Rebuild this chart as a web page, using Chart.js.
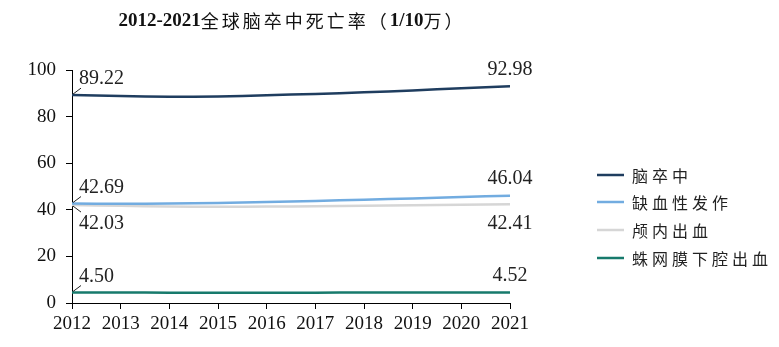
<!DOCTYPE html>
<html>
<head>
<meta charset="utf-8">
<script src="https://cdn.jsdelivr.net/npm/chart.js@4.4.0/dist/chart.umd.min.js"></script>
<style>
  html, body { margin: 0; padding: 0; background: #fff; }
  #wrap { width: 779px; height: 347px; position: relative; }
</style>
</head>
<body>
<div id="wrap"><canvas id="chart"></canvas></div>
<script>
const years = ['2012','2013','2014','2015','2016','2017','2018','2019','2020','2021'];
const stroke = [89.22, 88.8, 88.5, 88.6, 89.2, 89.7, 90.4, 91.2, 92.2, 92.98];
const ischemic = [42.69, 42.6, 42.7, 42.9, 43.3, 43.8, 44.3, 44.9, 45.5, 46.04];
const intracerebral = [42.03, 41.7, 41.4, 41.3, 41.4, 41.5, 41.7, 41.9, 42.2, 42.41];
const subarachnoid = [4.50, 4.48, 4.45, 4.44, 4.44, 4.45, 4.46, 4.48, 4.50, 4.52];
const seriesNames = ['脑卒中', '缺血性发作', '颅内出血', '蛛网膜下腔出血'];
const colors = ['#1f3d5f', '#72ace0', '#d6d6d6', '#177a6c'];

const serif = "'Liberation Serif', 'Times New Roman', serif";
const cjk = "'Noto Sans CJK SC', sans-serif";

// which end labels go above (-1) or below (+1) the point
const labelSide = [-1, -1, 1, -1];

const labelPlugin = {
  id: 'endLabels',
  afterDatasetsDraw(chart) {
    const ctx = chart.ctx;
    ctx.save();
    ctx.font = '20px ' + serif;
    ctx.fillStyle = '#222';
    ctx.strokeStyle = '#222';
    ctx.lineWidth = 1;
    chart.data.datasets.forEach((ds, i) => {
      const pts = chart.getDatasetMeta(i).data;
      const side = labelSide[i];
      const gap = side > 0 ? 19 : 16;
      // first point: callout line + text to the right
      const p0 = pts[0];
      const v0 = ds.data[0].toFixed(2);
      ctx.beginPath();
      ctx.moveTo(p0.x + 1, p0.y + side * 1);
      ctx.lineTo(p0.x + 9, p0.y + side * 7);
      ctx.stroke();
      ctx.textAlign = 'left';
      ctx.textBaseline = 'middle';
      ctx.fillText(v0, p0.x + 7, p0.y + side * gap);
      // last point: centered text
      const pn = pts[pts.length - 1];
      const vn = ds.data[ds.data.length - 1].toFixed(2);
      ctx.textAlign = 'center';
      ctx.fillText(vn, pn.x, pn.y + side * (gap + 1));
    });
    ctx.restore();
  }
};

const decorPlugin = {
  id: 'decor',
  afterDraw(chart) {
    const ctx = chart.ctx;
    ctx.save();
    // title, mixed fonts
    const parts = [
      ['2012-2021', 'bold 19px ' + serif, '0px'],
      ['全球脑卒中死亡率（', '18px ' + cjk, '3px'],
      ['1/10', 'bold 19px ' + serif, '0px'],
      ['万）', '18px ' + cjk, '3px']
    ];
    ctx.textBaseline = 'middle';
    ctx.fillStyle = '#111';
    let total = 0;
    parts.forEach(([t, f, s]) => { ctx.font = f; ctx.letterSpacing = s; total += ctx.measureText(t).width; });
    let x = 292 - total / 2;
    parts.forEach(([t, f, s]) => {
      ctx.font = f;
      ctx.letterSpacing = s;
      ctx.textAlign = 'left';
      ctx.fillText(t, x, 21);
      x += ctx.measureText(t).width;
    });
    // legend
    const ys = [175, 202, 230, 258];
    chart.data.datasets.forEach((ds, i) => {
      ctx.strokeStyle = ds.borderColor;
      ctx.lineWidth = 2.5;
      ctx.beginPath();
      ctx.moveTo(597, ys[i]);
      ctx.lineTo(624, ys[i]);
      ctx.stroke();
      ctx.font = '16px ' + cjk;
      ctx.letterSpacing = '4px';
      ctx.fillStyle = '#222';
      ctx.textAlign = 'left';
      ctx.fillText(ds.label, 632, ys[i] + 1);
    });
    ctx.restore();
  }
};

const datasets = [stroke, ischemic, intracerebral, subarachnoid].map((d, i) => ({
  label: seriesNames[i],
  data: d,
  borderColor: colors[i],
  backgroundColor: colors[i],
  borderWidth: 2.5,
  pointRadius: 0,
  tension: 0.25,
  fill: false
}));

new Chart(document.getElementById('chart'), {
  type: 'line',
  data: { labels: years, datasets: datasets },
  options: {
    responsive: true,
    maintainAspectRatio: false,
    animation: false,
    layout: { padding: { left: 0, right: 269, top: 70, bottom: 0 } },
    plugins: {
      legend: { display: false },
      title: { display: false },
      tooltip: { enabled: false }
    },
    scales: {
      x: {
        offset: false,
        grid: { drawOnChartArea: false, drawTicks: true, tickLength: 6, color: '#000', offset: false },
        border: { color: '#000', width: 1 },
        ticks: { color: '#111', font: { family: serif, size: 19 }, padding: 4, maxRotation: 0, autoSkip: false },
        afterFit(scale) { scale.height = 44; }
      },
      y: {
        min: 0,
        max: 100,
        grid: { drawOnChartArea: false, drawTicks: true, tickLength: 6, color: '#000' },
        border: { color: '#000', width: 1 },
        ticks: { stepSize: 20, color: '#111', font: { family: serif, size: 19 }, padding: 10 },
        afterFit(scale) { scale.width = 72; }
      }
    }
  },
  plugins: [labelPlugin, decorPlugin]
});
</script>
</body>
</html>
